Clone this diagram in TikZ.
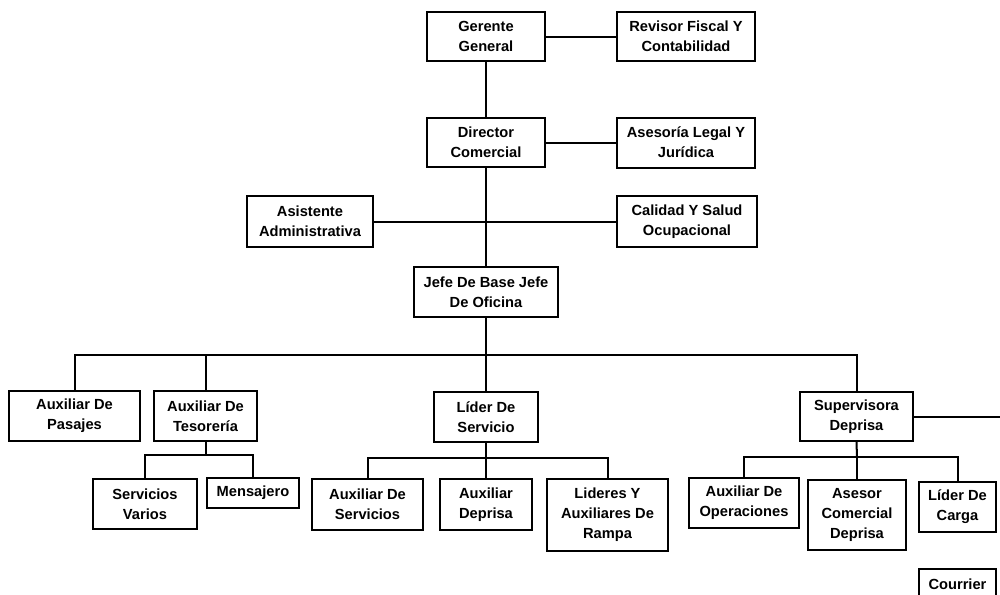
\documentclass[tikz,border=0pt]{standalone}
\usepackage{fontspec}
\setmainfont{Liberation Sans}
\usepackage{tikz}
\tikzset{unit/.style = {draw, line width=1.5pt, align=center, inner sep=0pt,
                        font=\bfseries\fontsize{11}{15}\selectfont},
         link/.style = {line width=1.5pt}}

\begin{document}
\begin{tikzpicture}[x=0.75pt, y=-0.75pt]
    \useasboundingbox (0, 0) rectangle (1000, 594);
    \node [unit, minimum width=88.5pt, minimum height=36.75pt] (gerente) at (486, 36.5) {Gerente\\General};
    \node [unit, minimum width=103.5pt, minimum height=36.75pt] (revisor) at (686, 36.5) {Revisor Fiscal Y\\Contabilidad};
    \node [unit, minimum width=88.5pt, minimum height=36.75pt] (director) at (486, 142.5) {Director\\Comercial};
    \node [unit, minimum width=103.5pt, minimum height=37.5pt] (asesoria) at (686, 142.5) {Asesoría Legal Y\\Jurídica};
    \node [unit, minimum width=94.5pt, minimum height=38.25pt] (asistente) at (310, 221.5) {Asistente\\Administrativa};
    \node [unit, minimum width=105pt, minimum height=38.25pt] (calidad) at (687, 221.5) {Calidad Y Salud\\Ocupacional};
    \node [unit, minimum width=108pt, minimum height=37.5pt] (jefe) at (486, 292) {Jefe De Base Jefe\\De Oficina};
    \node [unit, minimum width=98.25pt, minimum height=37.5pt] (pasajes) at (74.5, 416) {Auxiliar De\\Pasajes};
    \node [unit, minimum width=77.25pt, minimum height=37.5pt] (tesoreria) at (205.5, 416) {Auxiliar De\\Tesorería};
    \node [unit, minimum width=78pt, minimum height=37.5pt] (liderserv) at (486, 417) {Líder De\\Servicio};
    \node [unit, minimum width=84.75pt, minimum height=36.75pt] (supervisora) at (856.5, 416.5) {Supervisora\\Deprisa};
    \node [unit, minimum width=78pt, minimum height=37.5pt] (varios) at (145, 504) {Servicios\\Varios};
    \node [unit, minimum width=69pt, minimum height=22.5pt] (mensajero) at (253, 493) {Mensajero};
    \node [unit, minimum width=83.25pt, minimum height=38.25pt] (auxserv) at (367.5, 504.5) {Auxiliar De\\Servicios};
    \node [unit, minimum width=69pt, minimum height=38.25pt] (auxdeprisa) at (486, 504.5) {Auxiliar\\Deprisa};
    \node [unit, minimum width=90.75pt, minimum height=54pt] (rampa) at (607.5, 515) {Lideres Y\\Auxiliares De\\Rampa};
    \node [unit, minimum width=82.5pt, minimum height=37.5pt] (auxoper) at (744, 503) {Auxiliar De\\Operaciones};
    \node [unit, minimum width=73.5pt, minimum height=52.5pt] (asesorcom) at (857, 515) {Asesor\\Comercial\\Deprisa};
    \node [unit, minimum width=57.75pt, minimum height=37.5pt] (lidercarga) at (957.5, 507) {Líder De\\Carga};
    \node [unit, minimum width=57.75pt, minimum height=22.5pt] (courrier) at (957.5, 584) {Courrier};
    \coordinate (bus) at (486, 355);
    \coordinate (tesbus) at (205.5, 455);
    \coordinate (libus) at (486, 458);
    \coordinate (supbus) at (857, 457);
    \coordinate (edge) at (1000, 416.5);
    \draw [link] (gerente) -- (revisor);
    \draw [link] (gerente) -- (director);
    \draw [link] (director) -- (asesoria);
    \draw [link] (director) -- (jefe);
    \draw [link] (asistente) -- (calidad);
    \draw [link] (jefe) -- (bus);
    \draw [link] (pasajes.north) |- (bus) -| (supervisora.north);
    \draw [link] (tesoreria.north) -- (tesoreria.north |- bus);
    \draw [link] (bus) -- (liderserv.north);
    \draw [link] (tesoreria.south) -- (tesbus);
    \draw [link] (varios.north) |- (tesbus) -| (mensajero.north);
    \draw [link] (liderserv.south) -- (libus);
    \draw [link] (auxserv.north) |- (libus) -| (rampa.north);
    \draw [link] (libus) -- (auxdeprisa.north);
    \draw [link] (supervisora.south) -- (supbus);
    \draw [link] (auxoper.north) |- (supbus) -| (lidercarga.north);
    \draw [link] (supbus) -- (asesorcom.north);
    \draw [link] (supervisora.east) -- (edge);
\end{tikzpicture}
\end{document}
